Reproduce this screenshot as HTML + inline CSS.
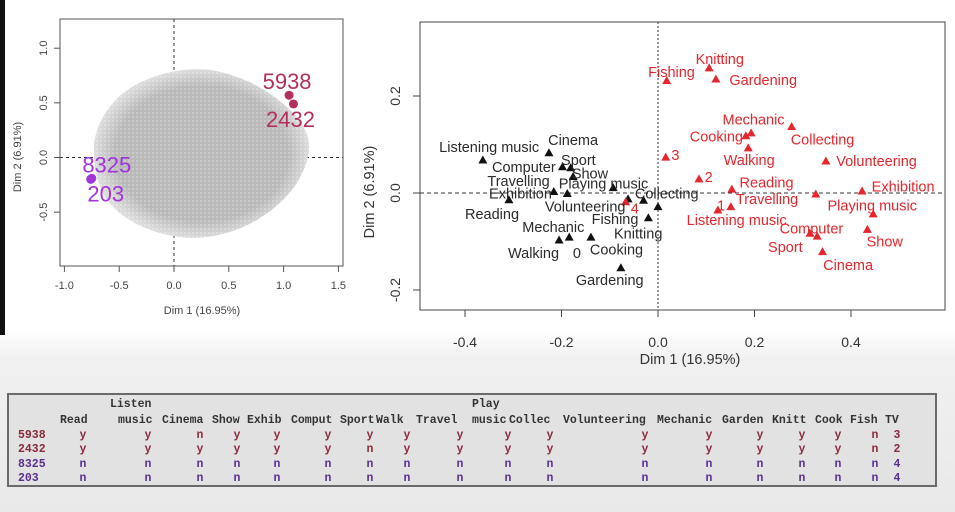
<!DOCTYPE html>
<html><head><meta charset="utf-8">
<style>
html,body{margin:0;padding:0;}
body{width:955px;height:512px;position:relative;overflow:hidden;background:linear-gradient(#fff 0,#fff 330px,#f0f0f0 360px,#e9e9e9 512px);font-family:"Liberation Sans",sans-serif;}
#strip{position:absolute;left:0;top:0;width:5px;height:335px;background:#111;}
svg{position:absolute;left:0;top:0;}
#tbl{position:absolute;left:7px;top:393px;width:930px;height:94px;background:#e2e2e2;border:2px solid #6a6a6a;box-sizing:border-box;font-family:"Liberation Mono",monospace;font-size:11.5px;font-weight:bold;}
#tbl span{position:absolute;white-space:pre;line-height:14px;}
</style></head>
<body>
<div id="strip"></div>
<svg id="chart" width="955" height="512">
<defs>
<pattern id="dots" width="4" height="4" patternUnits="userSpaceOnUse"><rect width="4" height="4" fill="#b9b9b9"/><circle cx="1" cy="1" r="0.7" fill="#e6e6e6"/></pattern>
<radialGradient id="edge" cx="0.5" cy="0.5" r="0.5"><stop offset="0.8" stop-color="#fff" stop-opacity="0"/><stop offset="1" stop-color="#fff" stop-opacity="0.5"/></radialGradient>
</defs>
<g id="left"></g>
<g id="right"></g>
</svg>
<div id="tbl"></div>
<script>
// ---------- LEFT: individuals plot ----------
const indLabels = ["5938","2432","8325","203"];
const indX = [1.05,1.09,-0.75,-0.76];
const indY = [0.57,0.49,-0.19,-0.20];
const indColor = ["#b3305c","#b3305c","#a334d9","#a334d9"];
const lxTicks = [-1.0,-0.5,0.0,0.5,1.0,1.5];
const lyTicks = [-0.5,0.0,0.5,1.0];

// ---------- RIGHT: categories plot ----------
const blkX = [-0.363,-0.226,-0.198,-0.181,-0.176,-0.216,-0.309,-0.093,-0.188,-0.062,-0.030,-0.020,0.000,-0.205,-0.184,-0.139,-0.077];
const blkY = [0.068,0.083,0.054,0.052,0.034,0.003,-0.014,0.011,-0.001,-0.012,-0.015,-0.051,-0.028,-0.097,-0.091,-0.091,-0.154];
const redX = [0.018,0.106,0.120,0.193,0.182,0.187,0.277,0.348,0.016,0.085,0.153,0.151,0.124,0.327,0.423,0.446,0.434,0.315,0.330,0.341,-0.067];
const redY = [0.232,0.258,0.235,0.124,0.118,0.093,0.137,0.066,0.074,0.029,0.008,-0.028,-0.035,-0.002,0.004,-0.043,-0.075,-0.083,-0.089,-0.121,-0.018];
const blkLabels = ["Listening music","Cinema","Sport","Computer","Show","Travelling","Playing music","Exhibition","Collecting","Reading","Volunteering","Fishing","Knitting","Mechanic","Cooking","Walking","0","Gardening"];
const blkLabX = [-0.350,-0.176,-0.165,-0.278,-0.141,-0.289,-0.113,-0.285,0.018,-0.344,-0.151,-0.089,-0.041,-0.217,-0.086,-0.258,-0.168,-0.100];
const blkLabY = [0.095,0.109,0.068,0.054,0.040,0.025,0.020,-0.001,-0.001,-0.043,-0.028,-0.054,-0.083,-0.070,-0.117,-0.124,-0.124,-0.179];
const redLabels = ["Knitting","Fishing","Gardening","Mechanic","Cooking","Collecting","Walking","Volunteering","3","2","Reading","Exhibition","Travelling","1","Playing music","Listening music","Computer","Show","Sport","Cinema","4"];
const redLabX = [0.128,0.028,0.218,0.198,0.121,0.341,0.189,0.453,0.036,0.105,0.225,0.508,0.226,0.131,0.444,0.163,0.318,0.470,0.264,0.394,-0.048];
const redLabY = [0.276,0.249,0.233,0.152,0.117,0.110,0.068,0.066,0.078,0.033,0.022,0.013,-0.012,-0.026,-0.026,-0.056,-0.073,-0.100,-0.111,-0.148,-0.032];
const rxTicks = [-0.4,-0.2,0.0,0.2,0.4];
const ryTicks = [-0.2,0.0,0.2];

const NS="http://www.w3.org/2000/svg";
function mk(parent,tag,attrs,text){const e=document.createElementNS(NS,tag);for(const k in attrs)e.setAttribute(k,attrs[k]);if(text!==undefined)e.textContent=text;parent.appendChild(e);return e;}

// left scales
const LB={x0:60,x1:343,y0:19,y1:266};
const lsx=v=>174+v*109.6;
const lsy=v=>157.5-v*109.3;
const L=document.getElementById('left');
let r=mk(L,'rect',{x:LB.x0,y:LB.y0,width:LB.x1-LB.x0,height:LB.y1-LB.y0,fill:'none',stroke:'#555','stroke-width':1});


let dl=mk(L,'line',{x1:lsx(0),x2:lsx(0),y1:LB.y0,y2:LB.y1,stroke:'#333','stroke-dasharray':'3,3','stroke-width':1});


dl=mk(L,'line',{x1:LB.x0,x2:LB.x1,y1:lsy(0),y2:lsy(0),stroke:'#333','stroke-dasharray':'3,3','stroke-width':1});


const cloudPath="M94,152 C93,128 108,102 132,87 C158,72 190,66 216,71 C246,77 272,92 292,112 C306,127 313,142 307,160 C301,182 286,201 263,216 C240,232 206,241 180,237 C150,233 124,221 108,201 C98,187 94,170 94,152 Z";
let cloud=mk(L,'path',{d:cloudPath,fill:'url(#dots)'});


let cloud2=mk(L,'path',{d:cloudPath,fill:'url(#edge)'});


lxTicks.forEach(v=>{
  const t=mk(L,'line',{x1:lsx(v),x2:lsx(v),y1:LB.y1,y2:LB.y1+6,stroke:'#555'});
  
  
  const s=mk(L,'text',{x:lsx(v),y:289,'font-size':11,fill:'#444','text-anchor':'middle'},v.toFixed(1));
  
  
});
lyTicks.forEach(v=>{
  const t=mk(L,'line',{x1:LB.x0-6,x2:LB.x0,y1:lsy(v),y2:lsy(v),stroke:'#555'});
  
  
  const s=mk(L,'text',{x:47,y:lsy(v),'font-size':11,fill:'#444','text-anchor':'middle',transform:`rotate(-90 47 ${lsy(v)})`},v.toFixed(1));
  
  
});
let tt=mk(L,'text',{x:202,y:314,'font-size':11,fill:'#444','text-anchor':'middle'},'Dim 1 (16.95%)');


tt=mk(L,'text',{x:21,y:157,'font-size':11,fill:'#444','text-anchor':'middle',transform:'rotate(-90 21 157)'},'Dim 2 (6.91%)');


const indLabOff=[[-2,-6],[-3,23],[15,-6],[15,22]];
indLabels.forEach((lab,i)=>{
  const c=mk(L,'circle',{cx:lsx(indX[i]),cy:lsy(indY[i]),r:4.5,fill:indColor[i]});
  
  
  const t=mk(L,'text',{x:lsx(indX[i])+indLabOff[i][0],y:lsy(indY[i])+indLabOff[i][1],'font-size':22,fill:indColor[i],'text-anchor':'middle'},lab);
  
  
});

// right scales
const RB={x0:420,x1:945,y0:22,y1:310};
const rsx=v=>658+v*482.5;
const rsy=v=>193-v*485;
const R=document.getElementById('right');
r=mk(R,'rect',{x:RB.x0,y:RB.y0,width:RB.x1-RB.x0,height:RB.y1-RB.y0,fill:'none',stroke:'#444','stroke-width':1});


dl=mk(R,'line',{x1:rsx(0),x2:rsx(0),y1:RB.y0,y2:RB.y1,stroke:'#333','stroke-dasharray':'2,2'});


dl=mk(R,'line',{x1:RB.x0,x2:RB.x1,y1:rsy(0),y2:rsy(0),stroke:'#333','stroke-dasharray':'4,3'});


rxTicks.forEach(v=>{
  const t=mk(R,'line',{x1:rsx(v),x2:rsx(v),y1:RB.y1,y2:RB.y1+7,stroke:'#444'});
  
  
  const s=mk(R,'text',{x:rsx(v),y:347,'font-size':14,fill:'#333','text-anchor':'middle'},v.toFixed(1));
  
  
});
ryTicks.forEach(v=>{
  const t=mk(R,'line',{x1:RB.x0-7,x2:RB.x0,y1:rsy(v),y2:rsy(v),stroke:'#444'});
  
  
  const s=mk(R,'text',{x:400,y:rsy(v),'font-size':14,fill:'#333','text-anchor':'middle',transform:`rotate(-90 400 ${rsy(v)})`},v.toFixed(1));
  
  
});
tt=mk(R,'text',{x:690,y:364,'font-size':14.5,fill:'#333','text-anchor':'middle'},'Dim 1 (16.95%)');


tt=mk(R,'text',{x:374,y:192,'font-size':14.5,fill:'#333','text-anchor':'middle',transform:'rotate(-90 374 192)'},'Dim 2 (6.91%)');


function tri(x,y,col){const p=mk(R,'path',{d:`M${x},${y-4.5} L${x+4.5},${y+3.5} L${x-4.5},${y+3.5} Z`,fill:col});return p;}
blkX.forEach((v,i)=>{
  const p=tri(rsx(v),rsy(blkY[i]),'#111');
  
  
});
redX.forEach((v,i)=>{
  const p=tri(rsx(v),rsy(redY[i]),'#e5262c');
  
  
});
blkLabels.forEach((lab,i)=>{
  const t=mk(R,'text',{x:rsx(blkLabX[i]),y:rsy(blkLabY[i])+5,'font-size':14.5,fill:'#2a2a2a','text-anchor':'middle'},lab);
  
  
});
redLabels.forEach((lab,i)=>{
  const t=mk(R,'text',{x:rsx(redLabX[i]),y:rsy(redLabY[i])+5,'font-size':14.5,fill:'#e5262c','text-anchor':'middle'},lab);
  
  
});

// ---------- TABLE ----------
const colHead1 = ["","Listen","","","","","","","","Play","","","","","","","",""];
const colHead2 = ["Read","music","Cinema","Show","Exhib","Comput","Sport","Walk","Travel","music","Collec","Volunteering","Mechanic","Garden","Knitt","Cook","Fish","TV"];
const rowIds = ["5938","2432","8325","203"];
const rowVals = [
 ["y","y","n","y","y","y","y","y","y","y","y","y","y","y","y","y","n","3"],
 ["y","y","y","y","y","y","n","y","y","y","y","y","y","y","y","y","n","2"],
 ["n","n","n","n","n","n","n","n","n","n","n","n","n","n","n","n","n","4"],
 ["n","n","n","n","n","n","n","n","n","n","n","n","n","n","n","n","n","4"]];
const rowColor = ["#8a2b3c","#8a2b3c","#5b2f8f","#5b2f8f"];
const headStart=[60,118,162,212,247,291,340,376,416,472,509,563,657,722,772,815,850,885];
const head1Start=[0,110,0,0,0,0,0,0,0,472,0,0,0,0,0,0,0,0];
const valCenter=[83,148,200,237,277,328,370,407,460,508,550,645,709,760,802,838,875,897];
const T=document.getElementById('tbl');
function cell(txt,left,top,color,name){
  const s=document.createElement('span');
  s.textContent=txt;
  s.style.left=(left-9)+'px';
  s.style.top=top+'px';
  s.style.color=color;
  
  
  T.appendChild(s);
}
colHead2.forEach((h,j)=>{
  if(colHead1[j])cell(colHead1[j],head1Start[j],3,'#333','table-header');
  cell(h,headStart[j],19,'#333','table-header');
});
rowIds.forEach((id,i)=>{
  cell(id,18,34+i*14.3,rowColor[i],'table-row-id');
  rowVals[i].forEach((v,j)=>cell(v,valCenter[j]-3.5,34+i*14.3,rowColor[i],'table-cell'));
});
</script>
</body></html>
